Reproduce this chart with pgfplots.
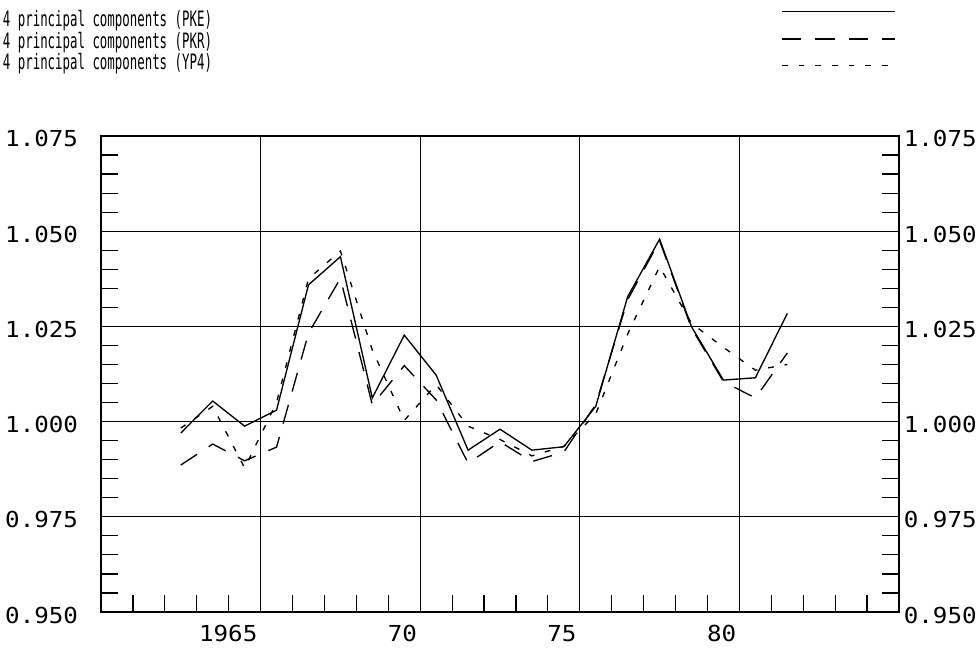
\documentclass[border=0pt]{standalone}
\usepackage{fontspec}
\usepackage{pgfplots}
\usepackage{pgfplotstable}
\pgfplotsset{compat=1.18}
\newfontfamily\titlefont[FakeStretch=0.585]{DejaVu Sans Mono}
\newfontfamily\tickfont[FakeStretch=1.1]{DejaVu Sans Mono}
\pgfplotstableread{
year pke pkr yp4
1963 0.9970 0.9886 0.9983
1964 1.0054 0.9941 1.0040
1965 0.9988 0.9897 0.9878
1966 1.0030 0.9933 1.0050
1967 1.0359 1.0232 1.0375
1968 1.0433 1.0376 1.0448
1969 1.0062 1.0044 1.0188
1970 1.0227 1.0147 1.0003
1971 1.0122 1.0057 1.0097
1972 0.9925 0.9891 0.9988
1973 0.9980 0.9947 0.9953
1974 0.9925 0.9895 0.9910
1975 0.9934 0.9920 0.9935
1976 1.0040 1.0045 1.0020
1977 1.0328 1.0320 1.0230
1978 1.0479 1.0475 1.0407
1979 1.0249 1.0245 1.0258
1980 1.0109 1.0105 1.0195
1981 1.0115 1.0062 1.0135
1982 1.0284 1.0180 1.0150
}\datatable
\begin{document}
\begin{tikzpicture}
\path[use as bounding box] (0,0) rectangle (733.5pt,486pt);
\begin{axis}[
  at={(75.75pt,27pt)}, anchor=south west,
  scale only axis, width=598.5pt, height=357pt,
  xmin=1960.5, xmax=1985.5, ymin=0.95, ymax=1.075,
  xtick={1965.5,1970.5,1975.5,1980.5},
  xticklabels={1965,70,75,80},
  minor xtick={1961.5,1962.5,...,1984.5},
  xtick pos=bottom,
  ytick={0.95,0.975,1,1.025,1.05,1.075},
  yticklabels={0.950,0.975,1.000,1.025,1.050,1.075},
  minor y tick num=4,
  ytick pos=both,
  yticklabel pos=left,
  grid=major,
  major grid style={line width=0.7pt, black},
  tick align=inside,
  major tick length=0pt,
  minor tick length=12.5pt,
  tick style={line width=0.9pt, black},
  axis line style={line width=1.4pt},
  tick label style={font=\tickfont\fontsize{16.5}{16.5}\selectfont},
  xticklabel style={anchor=north east, inner sep=0pt, xshift=-2.25pt, yshift=-9.75pt},
  yticklabel style={anchor=east, inner sep=0pt, xshift=-17pt, yshift=-2.25pt},
]
\addplot[black, line width=1pt] table[x=year, y=pke] {\datatable};
\addplot[black, line width=1pt, dash pattern=on 14.6pt off 10.4pt] table[x=year, y=pkr] {\datatable};
\addplot[black, line width=1pt, dash pattern=on 4.3pt off 8.2pt] table[x=year, y=yp4] {\datatable};
\end{axis}
\begin{axis}[
  at={(75.75pt,27pt)}, anchor=south west,
  scale only axis, width=598.5pt, height=357pt,
  xmin=1960.5, xmax=1985.5, ymin=0.95, ymax=1.075,
  axis x line=none, axis y line*=right,
  y axis line style={draw=none},
  ytick={0.95,0.975,1,1.025,1.05,1.075},
  yticklabels={0.950,0.975,1.000,1.025,1.050,1.075},
  ytick style={draw=none},
  yticklabel style={anchor=west, inner sep=0pt, xshift=3.4pt, yshift=-2.25pt, font=\tickfont\fontsize{16.5}{16.5}\selectfont},
]
\end{axis}
\begin{scope}[every node/.style={anchor=base west, inner sep=0pt, font=\titlefont\fontsize{15.9}{15.9}\selectfont}]
\node at (2pt,466pt) {4 principal components (PKE)};
\node at (2pt,449.75pt) {4 principal components (PKR)};
\node at (2pt,433.5pt) {4 principal components (YP4)};
\end{scope}
\draw[black, line width=1pt] (586.5pt,477.2pt) -- (671.25pt,477.2pt);
\draw[black, line width=1pt, dash pattern=on 14.6pt off 10.4pt] (586.5pt,456.75pt) -- (671.25pt,456.75pt);
\draw[black, line width=1pt, dash pattern=on 4.3pt off 8.2pt] (586.5pt,436.7pt) -- (671.25pt,436.7pt);
\end{tikzpicture}
\end{document}
